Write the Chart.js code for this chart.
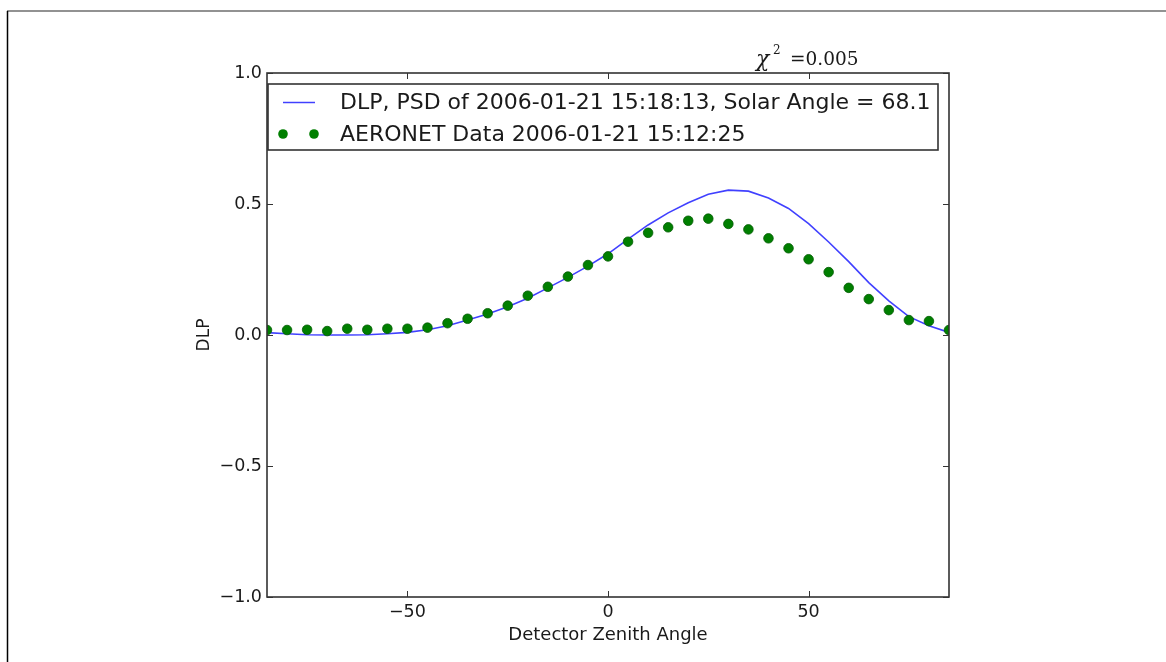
<!DOCTYPE html>
<html>
<head>
<meta charset="utf-8">
<script src="https://cdn.jsdelivr.net/npm/chart.js@4.4.1/dist/chart.umd.min.js"></script>
<style>
  html, body { margin: 0; padding: 0; background: #fff; }
  #wrap { width: 1166px; height: 662px; position: relative; }
</style>
</head>
<body>
<div id="wrap"><canvas id="chart"></canvas></div>
<script>
// detector zenith angles (degrees)
var angles = [-85, -80, -75, -70, -65, -60, -55, -50, -45, -40, -35, -30, -25, -20, -15, -10, -5, 0,
              5, 10, 15, 20, 25, 30, 35, 40, 45, 50, 55, 60, 65, 70, 75, 80, 85];

// model DLP curve
var modelDlp = [0.009, 0.005, 0.001, 0.0, 0.0, 0.001, 0.005, 0.010, 0.020, 0.035, 0.057, 0.080,
                0.108, 0.140, 0.180, 0.220, 0.263, 0.310, 0.366, 0.420, 0.466, 0.505, 0.537,
                0.553, 0.549, 0.523, 0.483, 0.425, 0.355, 0.280, 0.200, 0.130, 0.070, 0.035, 0.010];

// AERONET measurements
var aeronetDlp = [0.019, 0.019, 0.020, 0.015, 0.024, 0.020, 0.024, 0.024, 0.028, 0.045, 0.062, 0.083,
                  0.112, 0.150, 0.184, 0.223, 0.267, 0.300, 0.356, 0.390, 0.411, 0.436, 0.444,
                  0.424, 0.403, 0.369, 0.331, 0.289, 0.240, 0.180, 0.137, 0.095, 0.057, 0.053, 0.019];

var xTicks = [-50, 0, 50];
var yTicks = [-1.0, -0.5, 0.0, 0.5, 1.0];

var lineLabel = 'DLP, PSD of 2006-01-21 15:18:13, Solar Angle = 68.1';
var dotLabel = 'AERONET Data 2006-01-21 15:12:25';
var chiText = '=0.005';

function toPoints(xs, ys) {
    var pts = [];
    for (var i = 0; i < xs.length; i++) {
        pts.push({x: xs[i], y: ys[i]});
    }
    return pts;
}

function fmt(v) {
    var s = Math.abs(v).toFixed(1);
    return v < 0 ? '\u2212' + s : s;
}

var LINE_COLOR = 'rgba(0,0,255,0.75)';
var DOT_COLOR = '#007f00';

// box, inward ticks on all sides, legend, chi^2 note, figure frame
var decorations = {
    id: 'decorations',
    afterDatasetsDraw: function (chart) {
        var ctx = chart.ctx;
        var a = chart.chartArea;
        var xs = chart.scales.x, ys = chart.scales.y;
        ctx.save();

        // frame around the figure
        ctx.strokeStyle = '#6e6e6e';
        ctx.lineWidth = 1.5;
        ctx.beginPath();
        ctx.moveTo(7, 11);
        ctx.lineTo(1166, 11);
        ctx.stroke();
        ctx.strokeStyle = '#000';
        ctx.beginPath();
        ctx.moveTo(7.5, 11);
        ctx.lineTo(7.5, 662);
        ctx.stroke();

        // axes box
        ctx.strokeStyle = '#333';
        ctx.lineWidth = 1.6;
        ctx.strokeRect(a.left, a.top, a.right - a.left, a.bottom - a.top);

        // inward ticks
        ctx.lineWidth = 1;
        ctx.beginPath();
        xTicks.forEach(function (t) {
            var px = Math.round(xs.getPixelForValue(t)) + 0.5;
            ctx.moveTo(px, a.bottom); ctx.lineTo(px, a.bottom - 6);
            ctx.moveTo(px, a.top); ctx.lineTo(px, a.top + 6);
        });
        yTicks.forEach(function (t) {
            var py = Math.round(ys.getPixelForValue(t)) + 0.5;
            ctx.moveTo(a.left, py); ctx.lineTo(a.left + 6, py);
            ctx.moveTo(a.right, py); ctx.lineTo(a.right - 6, py);
        });
        ctx.stroke();

        // legend
        var lx = a.left + 1, ly = 84, lw = 938 - lx, lh = 66;
        ctx.fillStyle = '#fff';
        ctx.fillRect(lx, ly, lw, lh);
        ctx.strokeStyle = '#333';
        ctx.lineWidth = 1.6;
        ctx.strokeRect(lx, ly, lw, lh);

        ctx.strokeStyle = LINE_COLOR;
        ctx.lineWidth = 1.5;
        ctx.beginPath();
        ctx.moveTo(283, 102.5);
        ctx.lineTo(315, 102.5);
        ctx.stroke();

        ctx.fillStyle = DOT_COLOR;
        [283, 314].forEach(function (cx) {
            ctx.beginPath();
            ctx.arc(cx, 134, 4.8, 0, Math.PI * 2);
            ctx.fill();
        });

        ctx.fillStyle = '#1a1a1a';
        ctx.font = '22px "DejaVu Sans"';
        ctx.textBaseline = 'middle';
        ctx.textAlign = 'left';
        ctx.fillText(lineLabel, 340, 103);
        ctx.fillText(dotLabel, 340, 135);

        // chi squared note
        ctx.textBaseline = 'alphabetic';
        ctx.font = 'italic 22px "DejaVu Serif"';
        ctx.fillText('\u03c7', 756, 66);
        ctx.font = '12px "DejaVu Serif"';
        ctx.fillText('2', 773, 54);
        ctx.font = '18.5px "DejaVu Serif"';
        ctx.fillText(chiText, 790, 65);

        ctx.restore();
    }
};

var ctx = document.getElementById('chart');
var myChart = new Chart(ctx, {
    type: 'line',
    data: {
        datasets: [
            {
                label: dotLabel,
                data: toPoints(angles, aeronetDlp),
                showLine: false,
                pointRadius: 4.8,
                pointBackgroundColor: DOT_COLOR,
                pointBorderColor: '#005a00',
                pointBorderWidth: 0.8,
                clip: 0,
                order: 0
            },
            {
                label: lineLabel,
                data: toPoints(angles, modelDlp),
                borderColor: LINE_COLOR,
                borderWidth: 1.6,
                pointRadius: 0,
                tension: 0,
                fill: false,
                clip: 0,
                order: 1
            }
        ]
    },
    options: {
        responsive: true,
        maintainAspectRatio: false,
        animation: false,
        layout: {
            padding: {left: 0, right: 217, top: 73, bottom: 0}
        },
        plugins: {
            legend: {display: false},
            title: {display: false},
            tooltip: {enabled: false}
        },
        scales: {
            x: {
                type: 'linear',
                min: -85,
                max: 85,
                afterBuildTicks: function (scale) {
                    scale.ticks = xTicks.map(function (v) { return {value: v}; });
                },
                afterFit: function (scale) { scale.height = 65; },
                grid: {display: false, drawTicks: false},
                border: {display: false},
                ticks: {
                    padding: 5,
                    color: '#1a1a1a',
                    font: {family: 'DejaVu Sans', size: 17.5},
                    callback: function (v) { return fmt(v).replace('.0', ''); }
                },
                title: {
                    display: true,
                    text: 'Detector Zenith Angle',
                    color: '#1a1a1a',
                    font: {family: 'DejaVu Sans', size: 18},
                    padding: {top: 0, bottom: 16}
                }
            },
            y: {
                type: 'linear',
                min: -1,
                max: 1,
                afterBuildTicks: function (scale) {
                    scale.ticks = yTicks.map(function (v) { return {value: v}; });
                },
                afterFit: function (scale) { scale.width = 267; },
                grid: {display: false, drawTicks: false},
                border: {display: false},
                ticks: {
                    padding: 5,
                    color: '#1a1a1a',
                    font: {family: 'DejaVu Sans', size: 17.5},
                    callback: function (v) { return fmt(v); }
                },
                title: {
                    display: true,
                    text: 'DLP',
                    color: '#1a1a1a',
                    font: {family: 'DejaVu Sans', size: 17},
                    padding: {top: 194, bottom: 0}
                }
            }
        }
    },
    plugins: [decorations]
});
</script>
</body>
</html>
